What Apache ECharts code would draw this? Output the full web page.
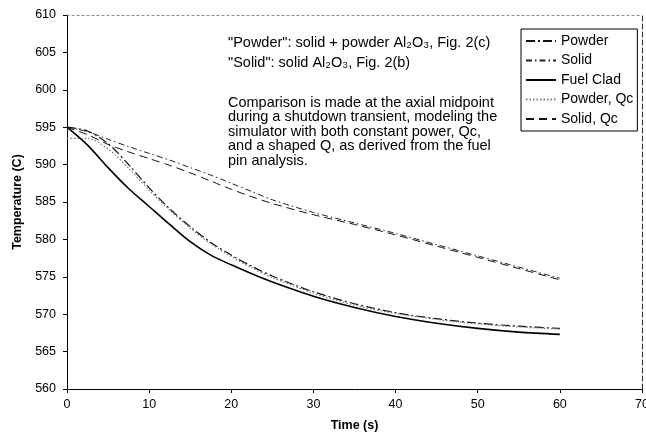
<!DOCTYPE html>
<html>
<head>
<meta charset="utf-8">
<script src="https://cdn.jsdelivr.net/npm/echarts@6/dist/echarts.min.js"></script>
<style>
  html, body { margin: 0; padding: 0; background: #fff; }
  #chart { width: 646px; height: 441px; }
</style>
</head>
<body>
<div id="chart"></div>
<script>
// time points (s)
const times = [0, 2.5, 5, 7.5, 10, 12.5, 15, 17.5, 20, 22.5, 25, 30, 35, 40, 45, 50, 55, 60];

// temperatures (C)
const powder   = [595.0, 594.5, 592.8, 590.0, 586.9, 584.1, 581.7, 579.6, 577.9, 576.4, 575.1, 573.0, 571.4, 570.2, 569.4, 568.8, 568.4, 568.1];
const solid    = [595.0, 594.4, 593.4, 592.4, 591.5, 590.6, 589.6, 588.6, 587.5, 586.4, 585.3, 583.6, 582.2, 580.8, 579.3, 577.8, 576.3, 574.8];
const fuelClad = [595.0, 592.6, 589.6, 586.8, 584.4, 582.0, 579.7, 577.9, 576.6, 575.4, 574.3, 572.4, 570.9, 569.7, 568.8, 568.1, 567.6, 567.3];
const powderQc = [593.5, 593.5, 592.1, 589.5, 586.6, 583.9, 581.5, 579.4, 577.7, 576.2, 574.9, 572.8, 571.2, 570.1, 569.3, 568.7, 568.3, 568.0];
const solidQc  = [595.0, 594.0, 592.7, 591.7, 590.8, 589.9, 588.9, 587.8, 586.7, 585.7, 584.8, 583.3, 582.0, 580.6, 579.1, 577.6, 576.1, 574.6];

const seriesNames = ["Powder", "Solid", "Fuel Clad", "Powder, Qc", "Solid, Qc"];

const noteTop = [
  "\"Powder\": solid + powder Al\u2082O\u2083, Fig. 2(c)",
  "\"Solid\": solid Al\u2082O\u2083, Fig. 2(b)"
];
const noteBody = [
  "Comparison is made at the axial midpoint",
  "during a shutdown transient, modeling the",
  "simulator with both constant power, Qc,",
  "and a shaped Q, as derived from the fuel",
  "pin analysis."
];

const FONT = "Liberation Sans, Arial, sans-serif";

function pairs(ys) {
  return times.map((t, i) => [t, ys[i]]);
}

function lineSeries(name, ys, style) {
  return {
    name,
    type: "line",
    data: pairs(ys),
    smooth: 0.3,
    symbol: "none",
    itemStyle: { color: style.color },
    lineStyle: style,
    z: 3
  };
}

const chart = echarts.init(document.getElementById("chart"), null, { renderer: "canvas" });

const textEls = [];
noteTop.forEach((s, i) => {
  textEls.push({
    type: "text", left: 228, top: 35 + i * 20,
    style: { text: s, font: "14.5px " + FONT, fill: "#000" }
  });
});
noteBody.forEach((s, i) => {
  textEls.push({
    type: "text", left: 228, top: 95 + i * 14.5,
    style: { text: s, font: "14.5px " + FONT, fill: "#000" }
  });
});

chart.setOption({
  backgroundColor: "#fff",
  animation: false,
  textStyle: { fontFamily: FONT },
  grid: { left: 67, right: 4, top: 15, bottom: 52, outerBoundsMode: "none" },
  legend: {
    orient: "vertical",
    left: 521,
    top: 29,
    data: seriesNames,
    itemWidth: 30,
    itemHeight: 12,
    itemGap: 5.5,
    padding: [5, 4, 5, 4],
    borderColor: "#000",
    borderWidth: 1,
    backgroundColor: "#fff",
    itemStyle: { opacity: 0 },
    textStyle: { fontSize: 14, lineHeight: 14, color: "#000", fontFamily: FONT }
  },
  xAxis: [
    {
      type: "value", min: 0, max: 70, interval: 10,
      name: "Time (s)", nameLocation: "middle", nameGap: 30,
      nameTextStyle: { fontWeight: "bold", fontSize: 12.5, color: "#000" },
      axisLine: { onZero: false, lineStyle: { color: "#000", width: 1 } },
      axisTick: { inside: false, length: 4, lineStyle: { color: "#000" } },
      axisLabel: { fontSize: 12.5, color: "#000", margin: 9 },
      splitLine: { show: false }
    },
    {
      type: "value", position: "top", min: 0, max: 70,
      axisLine: { show: true, onZero: false, lineStyle: { color: "#888", type: [2, 3], width: 1 } },
      axisTick: { show: false }, axisLabel: { show: false }, splitLine: { show: false }
    }
  ],
  yAxis: [
    {
      type: "value", min: 560, max: 610, interval: 5,
      name: "Temperature (C)", nameLocation: "middle", nameGap: 42,
      nameTextStyle: { fontWeight: "bold", fontSize: 12.5, color: "#000" },
      axisLine: { show: true, onZero: false, lineStyle: { color: "#000", width: 1 } },
      axisTick: { show: true, inside: false, length: 4, lineStyle: { color: "#000" } },
      axisLabel: { fontSize: 12.5, color: "#000", margin: 11 },
      splitLine: { show: false }
    },
    {
      type: "value", position: "right", min: 560, max: 610,
      axisLine: { show: true, onZero: false, lineStyle: { color: "#222", type: [5, 3], width: 1 } },
      axisTick: { show: false }, axisLabel: { show: false }, splitLine: { show: false }
    }
  ],
  series: [
    lineSeries("Powder", powder, { color: "#111", width: 1.2, type: [9, 3, 2, 3] }),
    lineSeries("Solid", solid, { color: "#222", width: 1, type: [6, 3, 1.5, 3] }),
    lineSeries("Fuel Clad", fuelClad, { color: "#000", width: 1.6, type: "solid" }),
    lineSeries("Powder, Qc", powderQc, { color: "#777", width: 1.2, type: [1.5, 2] }),
    lineSeries("Solid, Qc", solidQc, { color: "#111", width: 1, type: [8, 5] })
  ],
  graphic: textEls
});
</script>
</body>
</html>
